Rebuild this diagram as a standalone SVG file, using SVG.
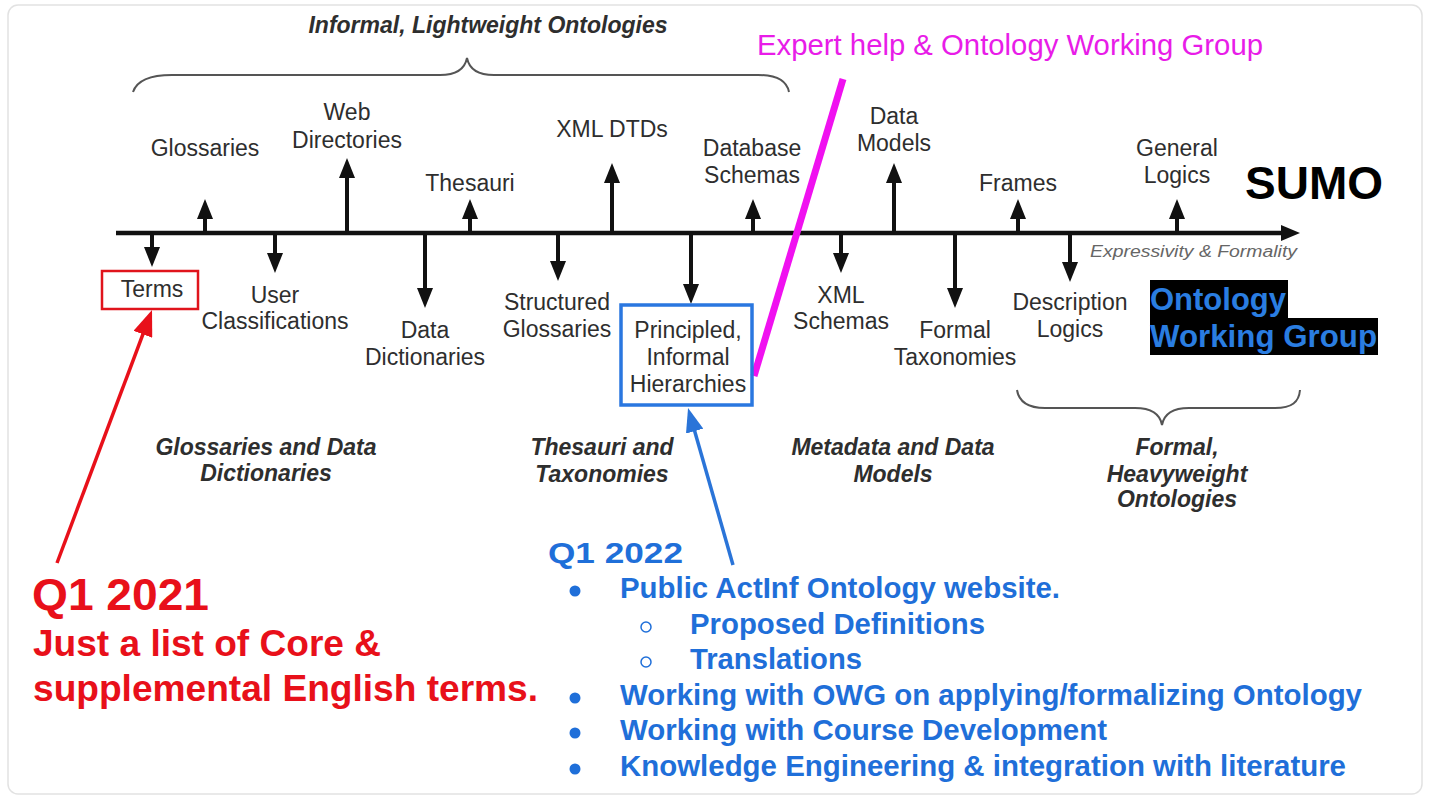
<svg xmlns="http://www.w3.org/2000/svg" width="1429" height="798" viewBox="0 0 1429 798">
<style>
.lbl{font-family:"Liberation Sans",Arial,sans-serif;font-size:23px;fill:#2e2e2e;text-anchor:middle}
.cat{font-family:"Liberation Sans",Arial,sans-serif;font-size:23px;font-weight:bold;font-style:italic;fill:#2e2e2e;text-anchor:middle}
.tick{stroke:#111;stroke-width:4;fill:none}
.brace{stroke:#555;stroke-width:2;fill:none}
.red{font-family:"Liberation Sans",Arial,sans-serif;font-weight:bold;fill:#e8101a}
.blue{font-family:"Liberation Sans",Arial,sans-serif;font-weight:bold;fill:#1f6fd9;font-size:30px}
</style>
<defs>
<marker id="ahK" viewBox="0 0 20 16" refX="14" refY="8" markerWidth="20" markerHeight="16" markerUnits="userSpaceOnUse" orient="auto"><path d="M0,0 L20,8 L0,16 z" fill="#111"/></marker>
<marker id="ahR" viewBox="0 0 26 20" refX="20" refY="10" markerWidth="26" markerHeight="20" markerUnits="userSpaceOnUse" orient="auto"><path d="M0,0 L26,10 L0,20 z" fill="#e8101a"/></marker>
<marker id="ahU" viewBox="0 0 24 18" refX="18" refY="9" markerWidth="24" markerHeight="18" markerUnits="userSpaceOnUse" orient="auto"><path d="M0,0 L24,9 L0,18 z" fill="#2a74d8"/></marker>
</defs>
<rect x="0" y="0" width="1429" height="798" fill="#ffffff"/>
<rect x="8" y="5" width="1414" height="789" rx="10" fill="#ffffff" stroke="#e2e2e2" stroke-width="1.5"/>

<g id="connectors">
  <line x1="116" y1="233" x2="1284" y2="233" stroke="#111" stroke-width="4.5"/>
  <polygon points="1281,225 1300,233 1281,241" fill="#111"/>
  <line class="tick" x1="205" y1="233" x2="205" y2="205" marker-end="url(#ahK)"/>
  <line class="tick" x1="347" y1="233" x2="347" y2="164" marker-end="url(#ahK)"/>
  <line class="tick" x1="470" y1="233" x2="470" y2="205" marker-end="url(#ahK)"/>
  <line class="tick" x1="612" y1="233" x2="612" y2="169" marker-end="url(#ahK)"/>
  <line class="tick" x1="753" y1="233" x2="753" y2="205" marker-end="url(#ahK)"/>
  <line class="tick" x1="894" y1="233" x2="894" y2="169" marker-end="url(#ahK)"/>
  <line class="tick" x1="1018" y1="233" x2="1018" y2="205" marker-end="url(#ahK)"/>
  <line class="tick" x1="1177" y1="233" x2="1177" y2="205" marker-end="url(#ahK)"/>
  <line class="tick" x1="152" y1="233" x2="152" y2="261" marker-end="url(#ahK)"/>
  <line class="tick" x1="275" y1="233" x2="275" y2="267" marker-end="url(#ahK)"/>
  <line class="tick" x1="425" y1="233" x2="425" y2="302" marker-end="url(#ahK)"/>
  <line class="tick" x1="558" y1="233" x2="558" y2="275" marker-end="url(#ahK)"/>
  <line class="tick" x1="691" y1="233" x2="691" y2="298" marker-end="url(#ahK)"/>
  <line class="tick" x1="841" y1="233" x2="841" y2="267" marker-end="url(#ahK)"/>
  <line class="tick" x1="955" y1="233" x2="955" y2="302" marker-end="url(#ahK)"/>
  <line class="tick" x1="1070" y1="233" x2="1070" y2="276" marker-end="url(#ahK)"/>
  <path class="brace" d="M133,92 C137,80 150,75 172,75 L440,75 C458,75 465,68 467,58 C469,68 476,75 494,75 L758,75 C778,75 787,82 789,92"/>
  <path class="brace" d="M1017,390 C1019,402 1028,408 1045,408 L1135,408 C1152,408 1160,414 1162,425 C1164,414 1172,408 1189,408 L1275,408 C1292,408 1299,402 1300,390"/>
  <line x1="843" y1="79" x2="754" y2="376" stroke="#f011f0" stroke-width="7"/>
  <line x1="57" y1="563" x2="149.9" y2="315.6" stroke="#e8101a" stroke-width="3.5" marker-end="url(#ahR)"/>
  <line x1="733" y1="565" x2="689.7" y2="413.8" stroke="#2a74d8" stroke-width="3.5" marker-end="url(#ahU)"/>
</g>

<g id="title-informal"><text class="cat" x="488" y="33">Informal, Lightweight Ontologies</text></g>
<g id="expert-help"><text x="757" y="55" font-family="Liberation Sans, Arial, sans-serif" font-size="29" fill="#e81ce8" textLength="506" lengthAdjust="spacingAndGlyphs">Expert help &amp; Ontology Working Group</text></g>

<g id="n-glossaries"><text class="lbl" x="205" y="156">Glossaries</text></g>
<g id="n-webdir"><text class="lbl" x="347" y="120">Web</text><text class="lbl" x="347" y="148">Directories</text></g>
<g id="n-thesauri"><text class="lbl" x="470" y="191">Thesauri</text></g>
<g id="n-xmldtd"><text class="lbl" x="612" y="137">XML DTDs</text></g>
<g id="n-dbschemas"><text class="lbl" x="752" y="156">Database</text><text class="lbl" x="752" y="183">Schemas</text></g>
<g id="n-datamodels"><text class="lbl" x="894" y="124">Data</text><text class="lbl" x="894" y="151">Models</text></g>
<g id="n-frames"><text class="lbl" x="1018" y="191">Frames</text></g>
<g id="n-genlogics"><text class="lbl" x="1177" y="156">General</text><text class="lbl" x="1177" y="183">Logics</text></g>
<g id="n-sumo"><text x="1245" y="199" font-family="Liberation Sans, Arial, sans-serif" font-size="46" font-weight="bold" fill="#000" textLength="138" lengthAdjust="spacingAndGlyphs">SUMO</text></g>

<g id="n-terms"><rect x="102" y="271" width="96" height="38" fill="none" stroke="#e0141c" stroke-width="2.5"/><text class="lbl" x="152" y="297">Terms</text></g>
<g id="n-userclass"><text class="lbl" x="275" y="303">User</text><text class="lbl" x="275" y="329">Classifications</text></g>
<g id="n-datadict"><text class="lbl" x="425" y="338">Data</text><text class="lbl" x="425" y="365">Dictionaries</text></g>
<g id="n-structgloss"><text class="lbl" x="557" y="310">Structured</text><text class="lbl" x="557" y="337">Glossaries</text></g>
<g id="n-principled"><rect x="621" y="305" width="131" height="100" fill="none" stroke="#2a77e0" stroke-width="3.5"/><text class="lbl" x="688" y="338">Principled,</text><text class="lbl" x="688" y="365">Informal</text><text class="lbl" x="688" y="392">Hierarchies</text></g>
<g id="n-xmlschemas"><text class="lbl" x="841" y="303">XML</text><text class="lbl" x="841" y="329">Schemas</text></g>
<g id="n-formaltax"><text class="lbl" x="955" y="338">Formal</text><text class="lbl" x="955" y="365">Taxonomies</text></g>
<g id="n-desclogics"><text class="lbl" x="1070" y="310">Description</text><text class="lbl" x="1070" y="337">Logics</text></g>
<g id="axis-label"><text x="1090" y="257" font-family="Liberation Sans, Arial, sans-serif" font-size="16" font-style="italic" fill="#666" textLength="207" lengthAdjust="spacingAndGlyphs">Expressivity &amp; Formality</text></g>
<g id="n-owg">
  <rect x="1150" y="280" width="138" height="39" fill="#000"/>
  <rect x="1150" y="318" width="228" height="37" fill="#000"/>
  <text x="1150" y="310" font-family="Liberation Sans, Arial, sans-serif" font-size="31" font-weight="bold" fill="#2a7de1">Ontology</text>
  <text x="1150" y="347" font-family="Liberation Sans, Arial, sans-serif" font-size="31" font-weight="bold" fill="#2a7de1" textLength="227" lengthAdjust="spacingAndGlyphs">Working Group</text>
</g>

<g id="c-glossdata"><text class="cat" x="266" y="455">Glossaries and Data</text><text class="cat" x="266" y="481">Dictionaries</text></g>
<g id="c-thestax"><text class="cat" x="602" y="455">Thesauri and</text><text class="cat" x="602" y="482">Taxonomies</text></g>
<g id="c-metadata"><text class="cat" x="893" y="455">Metadata and Data</text><text class="cat" x="893" y="482">Models</text></g>
<g id="c-formal"><text class="cat" x="1177" y="455">Formal,</text><text class="cat" x="1177" y="482">Heavyweight</text><text class="cat" x="1177" y="507">Ontologies</text></g>

<g id="q1-2021">
  <text class="red" x="32" y="610" font-size="45" textLength="177" lengthAdjust="spacingAndGlyphs">Q1 2021</text>
  <text class="red" x="33" y="656" font-size="37" textLength="348" lengthAdjust="spacingAndGlyphs">Just a list of Core &amp;</text>
  <text class="red" x="33" y="701" font-size="37" textLength="505" lengthAdjust="spacingAndGlyphs">supplemental English terms.</text>
</g>

<g id="q1-2022">
  <text class="blue" x="548" y="563" font-size="34" textLength="135" lengthAdjust="spacingAndGlyphs">Q1 2022</text>
  <circle cx="575" cy="591" r="5.5" fill="#1f6fd9"/>
  <text class="blue" x="620" y="598" textLength="440" lengthAdjust="spacingAndGlyphs">Public ActInf Ontology website.</text>
  <circle cx="646" cy="627" r="5" fill="none" stroke="#1f6fd9" stroke-width="1.5"/>
  <text class="blue" x="690" y="634" textLength="295" lengthAdjust="spacingAndGlyphs">Proposed Definitions</text>
  <circle cx="646" cy="662" r="5" fill="none" stroke="#1f6fd9" stroke-width="1.5"/>
  <text class="blue" x="690" y="669" textLength="172" lengthAdjust="spacingAndGlyphs">Translations</text>
  <circle cx="575" cy="698" r="5.5" fill="#1f6fd9"/>
  <text class="blue" x="620" y="705" textLength="742" lengthAdjust="spacingAndGlyphs">Working with OWG on applying/formalizing Ontology</text>
  <circle cx="575" cy="733" r="5.5" fill="#1f6fd9"/>
  <text class="blue" x="620" y="740" textLength="487" lengthAdjust="spacingAndGlyphs">Working with Course Development</text>
  <circle cx="575" cy="769" r="5.5" fill="#1f6fd9"/>
  <text class="blue" x="620" y="776" textLength="726" lengthAdjust="spacingAndGlyphs">Knowledge Engineering &amp; integration with literature</text>
</g>
</svg>
